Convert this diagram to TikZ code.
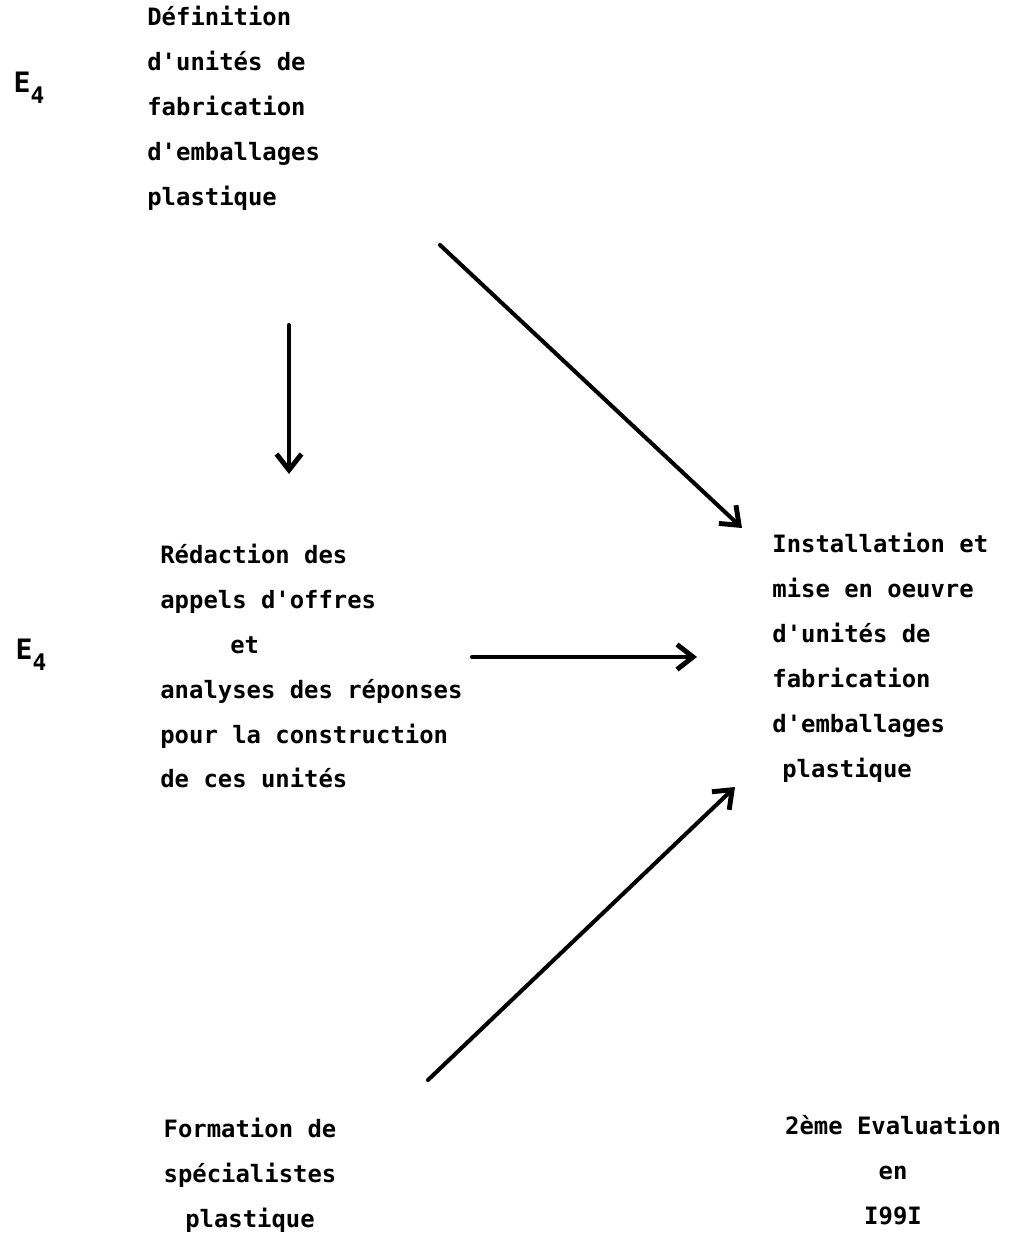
\documentclass[tikz,border=0pt]{standalone}
\usepackage{fontspec}
\setmonofont{DejaVu Sans Mono}
\usetikzlibrary{arrows.meta}
\tikzset{
    textblock/.style={inner sep=0pt, font=\ttfamily\bfseries\fontsize{13.6}{25.6}\selectfont},
    elabel/.style={inner sep=0pt, font=\ttfamily\bfseries\fontsize{16}{18}\selectfont},
}
\begin{document}
\begin{tikzpicture}[x=0.02cm, y=-0.02cm,
            flowarrow/.style={
            line width=2.3pt, line cap=round,
            -{Straight Barb[length=3.2mm, width=5mm, line width=2.8pt]}
        },]
    \useasboundingbox (0,0) rectangle (1009,1239);
    % text blocks
    \node[textblock, anchor=west, align=left] (defin) at (147,108)
        {Définition\\d'unités de\\fabrication\\d'emballages\\plastique};
    \node[textblock, anchor=west, align=left] (redac) at (160,666)
        {Rédaction des\\appels d'offres\\\hspace*{1.4cm}et\\analyses des réponses\\pour la construction\\de ces unités};
    \node[textblock, anchor=west, align=left] (install) at (772,658)
        {Installation et\\mise en oeuvre\\d'unités de\\fabrication\\d'emballages\\\hspace*{0.2cm}plastique};
    \node[textblock, align=center] (forma) at (250,1175)
        {Formation de\\spécialistes\\plastique};
    \node[textblock, align=center] (evalu) at (893,1170)
        {2ème Evaluation\\en\\I99I};
    \node[elabel] (etopa) at (29,88) {E\raisebox{-0.7ex}{\fontsize{13}{15}\selectfont 4}};
    \node[elabel] (etopb) at (31,655) {E\raisebox{-0.7ex}{\fontsize{13}{15}\selectfont 4}};
    % arrow ends
    \coordinate (va) at (289,325);  \coordinate (vb) at (289,474);
    \coordinate (da) at (440,245);  \coordinate (db) at (742,528);
    \coordinate (ha) at (472,657);  \coordinate (hb) at (697,657);
    \coordinate (ua) at (428,1080); \coordinate (ub) at (735,787);
    \draw[flowarrow] (va) -- (vb);
    \draw[flowarrow] (da) -- (db);
    \draw[flowarrow] (ha) -- (hb);
    \draw[flowarrow] (ua) -- (ub);
\end{tikzpicture}
\end{document}
